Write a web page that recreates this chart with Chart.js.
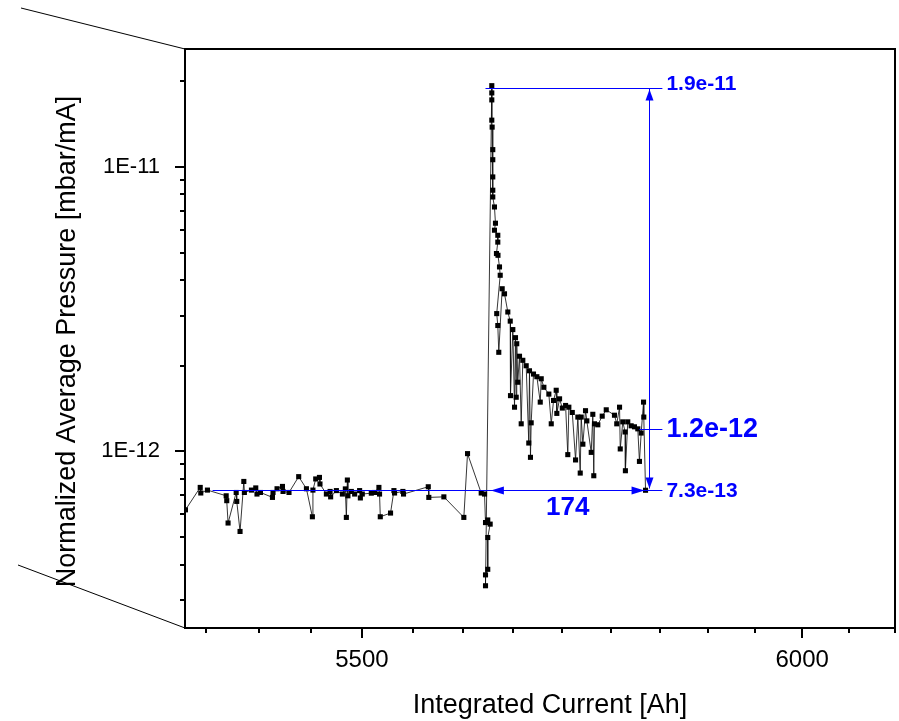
<!DOCTYPE html>
<html>
<head>
<meta charset="utf-8">
<script src="https://cdn.jsdelivr.net/npm/chart.js@4.4.1/dist/chart.umd.min.js"></script>
<style>
  html, body { margin: 0; padding: 0; background: #ffffff; }
  #wrap { width: 899px; height: 721px; }
</style>
</head>
<body>
<div id="wrap"><canvas id="chart" width="899" height="721"></canvas></div>
<script>
// Integrated current [Ah] for each measurement
const current = [
  5311.5, 5327.0, 5327.6, 5334.6, 5354.4, 5355.0, 5356.4, 5365.0, 5365.6, 5369.1,
  5373.1, 5373.7, 5381.2, 5385.8, 5387.1, 5390.8, 5403.6, 5404.2, 5408.5, 5414.3,
  5414.9, 5421.3, 5431.7, 5440.0, 5446.4, 5447.0, 5450.0, 5454.0, 5454.6, 5461.5,
  5465.5, 5466.1, 5472.3, 5478.8, 5482.0, 5483.1, 5484.2, 5484.8, 5488.5, 5492.1,
  5497.5, 5498.3, 5500.4, 5510.2, 5513.8, 5518.5, 5519.2, 5520.0, 5531.2, 5534.9,
  5535.6, 5544.7, 5545.4, 5572.6, 5573.2, 5589.8, 5611.9, 5616.0, 5631.2, 5634.9,
  5636.0, 5638.5, 5641.2, 5638.5, 5638.5, 5636.0, 5636.0,
  5643.0, 5643.0, 5643.0, 5643.0, 5643.4, 5644.1, 5644.1, 5644.1, 5644.1, 5644.1,
  5646.0, 5647.1, 5646.0, 5649.7, 5649.7, 5648.2, 5649.9, 5651.6, 5652.4, 5648.5,
  5649.7, 5650.8, 5654.6, 5657.2, 5660.9, 5663.6, 5663.9, 5666.5, 5668.4, 5669.5,
  5670.3, 5670.9, 5672.0, 5674.0, 5675.9, 5677.7, 5681.5, 5684.4, 5685.2, 5686.3,
  5687.1, 5689.7, 5693.5, 5697.3, 5698.4, 5701.4, 5707.0, 5709.7, 5712.3, 5715.3,
  5716.0, 5719.1, 5722.2, 5725.9, 5728.4, 5729.6, 5733.5, 5737.2, 5739.8, 5742.5,
  5743.6, 5745.5, 5748.5, 5750.0, 5755.0, 5756.8, 5757.9, 5758.7, 5762.5, 5767.5,
  5772.1, 5781.5, 5784.1, 5787.3, 5788.1, 5791.0, 5793.7, 5794.0, 5796.7, 5800.6,
  5804.4, 5808.2, 5810.1, 5812.1, 5814.8, 5815.1, 5817.1
];

// Normalized average pressure [mbar/mA]
const pressure = [
  6.23e-13, 7.47e-13, 7.14e-13, 7.31e-13, 6.98e-13, 6.71e-13, 5.60e-13, 7.17e-13, 6.67e-13, 5.23e-13,
  7.84e-13, 7.17e-13, 7.31e-13, 7.44e-13, 7.08e-13, 7.17e-13, 6.89e-13, 7.17e-13, 7.39e-13, 7.53e-13,
  7.23e-13, 7.17e-13, 8.15e-13, 7.39e-13, 5.89e-13, 7.31e-13, 8.00e-13, 8.10e-13, 7.68e-13, 7.08e-13,
  7.23e-13, 6.92e-13, 7.28e-13, 7.08e-13, 7.38e-13, 5.86e-13, 7.93e-13, 6.98e-13, 7.23e-13, 7.08e-13,
  7.28e-13, 6.86e-13, 7.08e-13, 7.13e-13, 7.17e-13, 7.47e-13, 7.08e-13, 5.89e-13, 6.07e-13, 7.28e-13,
  7.14e-13, 7.23e-13, 7.08e-13, 7.51e-13, 6.89e-13, 6.92e-13, 5.86e-13, 9.82e-13, 7.14e-13, 7.08e-13,
  5.62e-13, 5.74e-13, 5.55e-13, 4.98e-13, 3.85e-13, 3.68e-13, 3.37e-13,
  1.93e-11, 1.82e-11, 1.72e-11, 1.46e-11, 1.38e-11, 1.15e-11, 1.06e-11, 9.22e-12, 8.28e-12, 7.84e-12,
  7.23e-12, 6.34e-12, 5.99e-12, 5.75e-12, 5.44e-12, 4.96e-12, 4.89e-12, 4.45e-12, 4.16e-12, 3.05e-12,
  2.77e-12, 2.23e-12, 3.73e-12, 3.58e-12, 3.09e-12, 2.87e-12, 1.57e-12, 2.68e-12, 1.43e-12, 2.51e-12,
  1.55e-12, 2.39e-12, 1.75e-12, 2.16e-12, 1.25e-12, 2.09e-12, 2.00e-12, 1.07e-12, 1.92e-12, 9.53e-13,
  1.26e-12, 1.87e-12, 1.83e-12, 1.49e-12, 1.80e-12, 1.68e-12, 1.59e-12, 1.25e-12, 1.51e-12, 1.64e-12,
  1.36e-12, 1.53e-12, 1.42e-12, 1.45e-12, 9.74e-13, 1.43e-12, 1.37e-12, 9.33e-13, 1.32e-12, 8.39e-13,
  1.32e-12, 1.06e-12, 1.39e-12, 1.28e-12, 9.92e-13, 1.35e-12, 8.21e-13, 1.25e-12, 1.24e-12, 1.33e-12,
  1.40e-12, 1.34e-12, 1.25e-12, 1.43e-12, 1.02e-12, 1.27e-12, 1.17e-12, 8.55e-13, 1.27e-12, 1.23e-12,
  1.22e-12, 1.20e-12, 9.22e-13, 1.16e-12, 1.49e-12, 1.32e-12, 7.30e-13
];

// Axis ranges and tick positions
const xRange = [5311, 6111.1];
const yRange = [2.394e-13, 2.597e-11];
const xTicks = [5333.33, 5388.89, 5444.44, 5500, 5555.56, 5611.11, 5666.67, 5722.22,
                5777.78, 5833.33, 5888.89, 5944.44, 6000, 6055.56, 6111.11];
const xMajorTicks = [5500, 6000];
const xTickLabels = ['5500', '6000'];
const yTicks = [3e-13, 4e-13, 5e-13, 6e-13, 7e-13, 8e-13, 9e-13,
                1e-12, 2e-12, 3e-12, 4e-12, 5e-12, 6e-12, 7e-12, 8e-12, 9e-12,
                1e-11, 2e-11];
const yMajorTicks = [1e-12, 1e-11];
const yTickLabels = ['1E-12', '1E-11'];
const xTitle = 'Integrated Current [Ah]';
const yTitle = 'Normalized Average Pressure [mbar/mA]';

// Dimension annotation: peak, plateau, baseline and the step width
const peakLevel = 1.9e-11;
const plateauLevel = 1.2e-12;
const baseLevel = 7.3e-13;
const stepStart = 5642;
const stepEnd = 5816;
const stepWidth = 174;
const dimX = 5821.5;
const dimRight = 5836.5;
const peakLineStart = 5636;
const baseLineStart = 5340;
const plateauLineStart = 5810;

const FONT = '"Liberation Sans", Arial, sans-serif';
const BLUE = '#0000ff';

function arrowHead(ctx, tipX, tipY, dirX, dirY, len, half) {
  const bx = tipX - dirX * len, by = tipY - dirY * len;
  const px = -dirY, py = dirX;
  ctx.beginPath();
  ctx.moveTo(tipX, tipY);
  ctx.lineTo(bx + px * half, by + py * half);
  ctx.lineTo(bx - px * half, by - py * half);
  ctx.closePath();
  ctx.fill();
}

const framePlugin = {
  id: 'frameAndTicks',
  beforeDatasetsDraw(chart) {
    const { ctx, chartArea: a, scales } = chart;
    ctx.save();
    // perspective guide lines on the left
    ctx.strokeStyle = '#000';
    ctx.lineWidth = 1;
    ctx.beginPath();
    ctx.moveTo(a.left - 164, a.top - 41);
    ctx.lineTo(a.left, a.top);
    ctx.moveTo(a.left - 167, a.bottom - 63);
    ctx.lineTo(a.left, a.bottom);
    ctx.stroke();
    // tick marks
    ctx.lineWidth = 2;
    ctx.beginPath();
    xTicks.forEach(v => {
      const px = Math.round(scales.x.getPixelForValue(v));
      const len = xMajorTicks.includes(v) ? 10 : 5;
      ctx.moveTo(px, a.bottom);
      ctx.lineTo(px, a.bottom + len);
    });
    yTicks.forEach(v => {
      const py = Math.round(scales.y.getPixelForValue(v));
      const len = yMajorTicks.includes(v) ? 10 : 5;
      ctx.moveTo(a.left, py);
      ctx.lineTo(a.left - len, py);
    });
    ctx.stroke();
    // frame
    ctx.strokeRect(a.left, a.top, a.right - a.left, a.bottom - a.top);
    // axis titles
    ctx.fillStyle = '#000';
    ctx.font = '27px ' + FONT;
    ctx.textAlign = 'center';
    ctx.textBaseline = 'middle';
    ctx.fillText(xTitle, (a.left + a.right) / 2 + 10, a.bottom + 78);
    ctx.translate(68, (a.top + a.bottom) / 2 + 3);
    ctx.rotate(-Math.PI / 2);
    ctx.fillText(yTitle, 0, 0);
    ctx.restore();
  },
  afterDatasetsDraw(chart) {
    const { ctx, scales } = chart;
    const X = v => scales.x.getPixelForValue(v);
    const Y = v => scales.y.getPixelForValue(v);
    ctx.save();
    ctx.strokeStyle = BLUE;
    ctx.fillStyle = BLUE;
    ctx.lineWidth = 1;
    const yPeak = Math.round(Y(peakLevel)) + 0.5;
    const yBase = Math.round(Y(baseLevel)) + 0.5;
    const yPlat = Math.round(Y(plateauLevel)) + 0.5;
    const xDim = Math.round(X(dimX)) + 0.5;
    ctx.beginPath();
    ctx.moveTo(X(peakLineStart), yPeak); ctx.lineTo(X(dimRight), yPeak);
    ctx.moveTo(X(baseLineStart), yBase); ctx.lineTo(X(dimRight), yBase);
    ctx.moveTo(X(plateauLineStart), yPlat); ctx.lineTo(X(dimRight), yPlat);
    ctx.moveTo(xDim, yPeak); ctx.lineTo(xDim, yBase - 2);
    ctx.stroke();
    // arrow heads
    arrowHead(ctx, xDim, yPeak + 1, 0, -1, 11, 4);
    arrowHead(ctx, xDim, yBase - 2, 0, 1, 11, 4);
    arrowHead(ctx, X(stepStart), yBase, -1, 0, 13, 4);
    arrowHead(ctx, X(stepEnd), yBase, 1, 0, 13, 4);
    // labels
    ctx.textBaseline = 'middle';
    ctx.textAlign = 'left';
    const tx = X(dimRight) + 4;
    ctx.font = 'bold 21px ' + FONT;
    ctx.fillText(peakLevel.toExponential(1), tx, yPeak - 4);
    ctx.fillText(baseLevel.toExponential(1), tx, yBase + 1);
    ctx.font = 'bold 27px ' + FONT;
    ctx.fillText(plateauLevel.toExponential(1), tx, yPlat);
    ctx.font = 'bold 26px ' + FONT;
    ctx.textAlign = 'center';
    ctx.fillText(String(stepWidth), (X(stepStart) + X(stepEnd)) / 2, yBase + 17);
    ctx.restore();
  }
};

new Chart(document.getElementById('chart'), {
  type: 'scatter',
  data: {
    datasets: [{
      data: current.map((c, i) => ({ x: c, y: pressure[i] })),
      showLine: true,
      borderColor: 'rgba(20,20,20,0.85)',
      borderWidth: 1,
      pointStyle: 'rect',
      pointRadius: 3.6,
      pointBorderWidth: 0,
      pointBackgroundColor: '#000',
      backgroundColor: '#000'
    }]
  },
  options: {
    responsive: false,
    animation: false,
    devicePixelRatio: 1,
    layout: { padding: { top: 49, right: 3, left: 0, bottom: 0 } },
    plugins: { legend: { display: false }, tooltip: { enabled: false } },
    scales: {
      x: {
        type: 'logarithmic',
        min: xRange[0],
        max: xRange[1],
        afterBuildTicks: s => { s.ticks = xTicks.map(v => ({ value: v })); },
        afterFit: s => { s.height = 93; s.paddingLeft = 0; s.paddingRight = 0; },
        grid: { display: false },
        border: { display: false },
        ticks: {
          autoSkip: false, maxRotation: 0, padding: 10,
          color: '#000', font: { family: FONT, size: 24 },
          callback: v => { const i = xMajorTicks.indexOf(v); return i >= 0 ? xTickLabels[i] : ''; }
        },
        title: { display: false }
      },
      y: {
        type: 'logarithmic',
        min: yRange[0],
        max: yRange[1],
        afterBuildTicks: s => { s.ticks = yTicks.map(v => ({ value: v })); },
        afterFit: s => { s.width = 185; s.paddingTop = 0; s.paddingBottom = 0; },
        grid: { display: false },
        border: { display: false },
        ticks: {
          autoSkip: false, padding: 17,
          color: '#000', font: { family: FONT, size: 22 },
          callback: v => { const i = yMajorTicks.indexOf(v); return i >= 0 ? yTickLabels[i] : ''; }
        },
        title: { display: false }
      }
    }
  },
  plugins: [framePlugin]
});
</script>
</body>
</html>
